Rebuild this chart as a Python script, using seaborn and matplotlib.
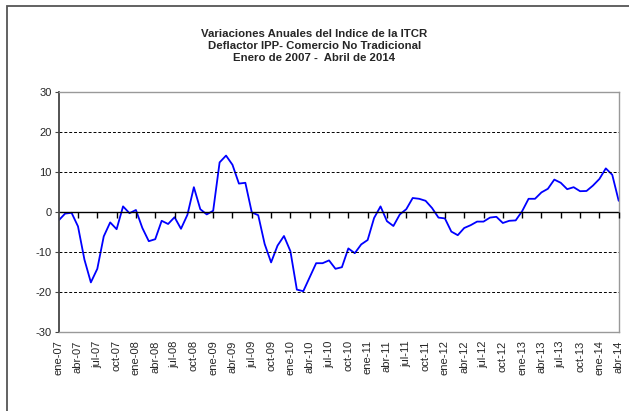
import matplotlib.pyplot as plt
import seaborn as sns
import pandas as pd
import numpy as np
from matplotlib.patches import Rectangle

# Monthly annual variations, ene-07 .. abr-14
meses = ['ene', 'feb', 'mar', 'abr', 'may', 'jun', 'jul', 'ago', 'sep', 'oct', 'nov', 'dic']
years = ['07', '08', '09', '10', '11', '12', '13', '14']
periodos = [f'{m}-{y}' for y in years for m in meses][:88]

variacion = [
    -2.1, -0.4, -0.2, -3.6, -11.9, -17.6, -14.2, -6.1, -2.6, -4.3, 1.4, -0.3,
    0.5, -4.0, -7.3, -6.8, -2.2, -3.0, -1.3, -4.2, -0.7, 6.2, 0.7, -0.6,
    0.3, 12.4, 14.1, 11.8, 7.1, 7.3, -0.1, -0.8, -8.0, -12.6, -8.4, -6.0,
    -9.8, -19.4, -19.8, -16.3, -12.8, -12.8, -12.1, -14.2, -13.8, -9.1, -10.3, -8.1,
    -7.0, -1.5, 1.4, -2.3, -3.5, -0.6, 0.7, 3.5, 3.3, 2.8, 1.0, -1.4,
    -1.6, -4.9, -5.8, -4.0, -3.3, -2.4, -2.4, -1.4, -1.2, -2.75, -2.2, -2.1,
    0.2, 3.3, 3.3, 4.9, 5.8, 8.1, 7.3, 5.7, 6.2, 5.2, 5.25, 6.6,
    8.25, 10.9, 9.3, 2.8,
]

yticks = [-30, -20, -10, 0, 10, 20, 30]
titulo = ('Variaciones Anuales del Indice de la ITCR\n'
          'Deflactor IPP- Comercio No Tradicional\n'
          'Enero de 2007 -  Abril de 2014')

df = pd.DataFrame({'pos': np.arange(len(variacion)), 'periodo': periodos, 'valor': variacion})

sns.set_style('white')
plt.rcParams['font.family'] = ['Liberation Sans', 'DejaVu Sans']

fig = plt.figure(figsize=(6.29, 4.11), dpi=100)
# chart area border
fig.patches.append(Rectangle((7 / 629, -0.1), 1.2, 1.1 - 6 / 411, transform=fig.transFigure,
                             fill=False, edgecolor='#555555', linewidth=1.3))

ax = fig.add_axes([0.0933, 0.1922, 0.8903, 0.584])
sns.lineplot(data=df, x='pos', y='valor', color='#0000ff', linewidth=1.3, ax=ax)

ax.set_xlim(0, len(variacion) - 1)
ax.set_ylim(-30, 30)
ax.set_yticks(yticks)
ax.set_yticklabels([str(t) for t in yticks], fontsize=8)
for t in [-20, -10, 10, 20]:
    ax.axhline(t, color='black', linewidth=0.7, linestyle=(0, (3, 2)))
ax.axhline(0, color='black', linewidth=1.0)

tick_pos = df['pos'][::3]
ax.set_xticks(tick_pos)
ax.set_xticklabels(df['periodo'][::3], rotation=90, fontsize=8)
ax.tick_params(axis='x', length=0, pad=6)
ax.tick_params(axis='y', length=3, width=0.8, color='#444444', pad=2, left=True)
ax.set_xlabel('')
ax.set_ylabel('')

for s in ['top', 'right', 'bottom']:
    ax.spines[s].set_color('#999999')
    ax.spines[s].set_linewidth(1.0)
ax.spines['left'].set_color('#444444')
ax.spines['left'].set_linewidth(1.3)

# tick marks on the zero line
ax2 = ax.twiny()
ax2.set_xlim(ax.get_xlim())
ax2.xaxis.set_ticks_position('bottom')
ax2.spines['bottom'].set_position(('data', 0))
for s in ['top', 'right', 'left', 'bottom']:
    ax2.spines[s].set_visible(False)
ax2.set_xticks(tick_pos[1:])
ax2.set_xticklabels([])
ax2.tick_params(axis='x', length=4, width=1.0, color='black', direction='out')

fig.text(0.5, 0.93, titulo, ha='center', va='top', fontsize=8.2, fontweight='bold',
         linespacing=1.25)

plt.savefig('out.png', dpi=100)
